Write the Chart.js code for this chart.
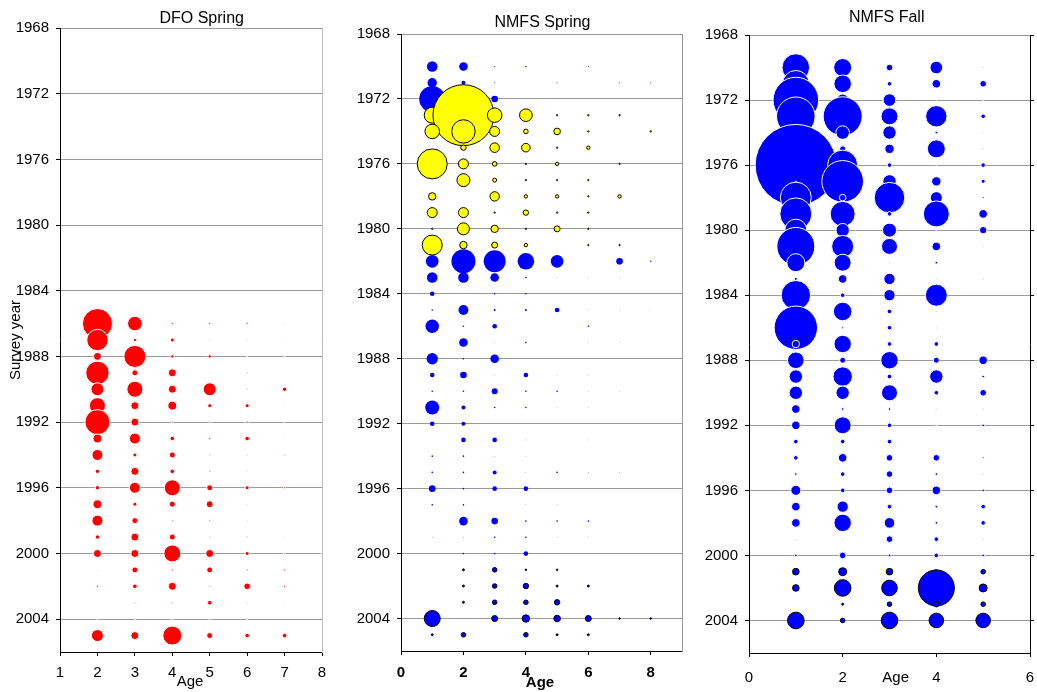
<!DOCTYPE html>
<html><head><meta charset="utf-8">
<script src="https://cdn.jsdelivr.net/npm/chart.js@4.4.0/dist/chart.umd.min.js"></script>
<style>
html,body{margin:0;padding:0;background:#fff;}
#wrap{position:relative;width:1037px;height:692px;overflow:hidden;background:#fff;}
canvas{position:absolute;top:0;}
</style></head><body>
<div id="wrap">
<canvas id="c1" width="340" height="692" style="left:0px;width:340px;height:692px"></canvas>
<canvas id="c2" width="350" height="692" style="left:340px;width:350px;height:692px"></canvas>
<canvas id="c3" width="347" height="692" style="left:690px;width:347px;height:692px"></canvas>
</div>
<script>
// ---------- DATA (bubble values are area-like abundance indices) ----------
const yearTicks = [1968, 1972, 1976, 1980, 1984, 1988, 1992, 1996, 2000, 2004];

// DFO Spring: years 1986-2005, ages 2-8
const dfoYears = [1986,1987,1988,1989,1990,1991,1992,1993,1994,1995,1996,1997,1998,1999,2000,2001,2002,2003,2004,2005];
const dfoAges = [2,3,4,5,6,7,8];
const dfoA2 = [225,114,16,137,42,64,156,20,30,4.8,4.8,20,30,4.8,16,0.25,1,0,0.25,36];
const dfoA3 = [53,2.9,121,9,64,16,16,30,4,16,30,4,9,16,16,9,5.3,0.64,0.36,16];
const dfoA4 = [1,4,2.9,16,16,20,1,5.3,9,5.3,64,9,0.64,9,72,1,16,0.64,0.36,90];
const dfoA5 = [1,0.25,2.9,0.25,42,4,1,1,0.64,0.64,9,12,0.64,0.64,16,9,0.64,5.3,0.36,9];
const dfoA6 = [1,0.25,0.25,0.64,0.64,4,1.4,5.3,0.25,0.25,4,0.25,0.25,0.64,4,1,11,0.25,0.36,5.3];
const dfoA7 = [0.25,0.25,0.25,0,4.8,0.25,0.25,0.25,0.64,0,1,0,0,0.25,0.64,1,1,0.25,0,5.3];
const dfoA8 = [0,0,0,0,0,0,0,0,0,0,0,0,0,0,0.64,0,0,0,0,0];

// NMFS Spring: years 1970-2005, ages 1-8
const nsYears = [1970,1971,1972,1973,1974,1975,1976,1977,1978,1979,1980,1981,1982,1983,1984,1985,1986,1987,1988,1989,1990,1991,1992,1993,1994,1995,1996,1997,1998,1999,2000,2001,2002,2003,2004,2005];
const nsAges = [1,2,3,4,5,6,7,8];
const nsA1 = [28,22,169,64,53,0,225,0,13.7,25,0.5,100,40,28,5.3,0.64,45,0,32,5.3,0.64,49,5.3,0,0.64,0.64,11,0.64,0,0.1,0,0,0,0,64,1];
const nsA2 = [18.5,4,9,930,137,7.3,25,42,0,25,36,13.7,144,28,0,25,0.64,18.5,0.64,11,0.64,4,4,5.3,0.64,0.64,0.64,0.64,18.5,0.1,0.64,1,1,1,0,5.3];
const nsA3 = [0.25,0.25,11,53,25,23,5.3,4,22,0.5,13.7,9,121,18.5,0.64,1,5.3,0.1,18.5,0.1,9,0.64,0,5.3,0.1,4,5.3,0,11,0.64,0.64,5.3,5.3,5.3,9,0];
const nsA4 = [0.5,0,0,40,5.3,18.5,0.5,0.5,2.9,7.3,0.5,2.9,69,0.64,0.64,1,0,0.64,0,5.3,0.64,0.64,0,0.1,0.1,0.1,5.3,0.1,0.64,0.64,5.3,0.64,7.3,5.3,13.7,5.3];
const nsA5 = [0,0.25,0,0.5,11,0.5,2.9,0.5,2.9,0.5,9,0,40,0.1,0,5.3,0,0,0,0.1,0.64,0.1,0,0,0,0.64,0,0.1,0.64,0.1,0,0.64,1,7.3,11,1];
const nsA6 = [0.25,0,0,0.5,0.5,2.9,0,0.5,0.5,0.5,0.5,0.5,0,0.1,0,0.1,0.64,0.1,0,0.1,0.1,0.1,0,0.1,0,0.1,0,0,0.64,0.1,0,0,1,0,9,1];
const nsA7 = [0,0.25,0,0.5,0,0,0.5,0,2.9,0,0,0.5,11,0.1,0,0.1,0,0.1,0,0,0.1,0,0,0,0,0.1,0,0,0,0,0,0,0,0,0.64,0];
const nsA8 = [0,0.25,0,0,0.5,0,0,0,0,0,0,0,0.5,0,0,0.1,0,0,0,0,0,0,0,0,0,0,0,0,0,0,0,0,0,0,0.64,0];

// NMFS Fall: years 1970-2004, ages 1-5
const nfYears = [1970,1971,1972,1973,1974,1975,1976,1977,1978,1979,1980,1981,1982,1983,1984,1985,1986,1987,1988,1989,1990,1991,1992,1993,1994,1995,1996,1997,1998,1999,2000,2001,2002,2003,2004];
const nfAges = [1,2,3,4,5];
const nfA1 = [190,177,520,372,25,64,1656,0.25,240,256,121,361,81,2.3,216,9,471,13.7,69,45,45,18.5,18.5,5.3,5.3,1.7,25,18.5,18.5,0.25,1.7,11,11,0,69];
const nfA2 = [81,77,36,380,46,9,225,433,11,156,45,121,72,18.5,5.3,86,1,76,9,94,45,1.7,72,5.3,18.5,5.3,5.3,32,76,0.25,11,16,69,1,5.3];
const nfA3 = [11,5.3,40,72,45,22,5.3,45,234,5.3,49,64,0.25,32,32,5.3,5.3,5.3,76,5.3,64,1.7,5.3,5.3,11,11,11,5.3,28,11,1.7,11,61,5.3,69];
const nfA4 = [40,18.5,0.25,114,1.7,81,0.25,22,36,169,0.25,18.5,1.7,0.25,121,0.25,0.25,5.3,9,45,5.3,0.25,0.25,0,11,1.7,18.5,1.7,1.7,5.3,5.3,4,324,7.3,53];
const nfA5 = [0.25,11,0.25,5.3,0.25,0.25,5.3,4,1,18.5,13.7,0.25,0,0.25,0,0,0,0,18.5,1.7,11,0.25,1.7,0,1,0.25,1.7,5.3,5.3,0.25,1.7,5.3,16,5.3,53];

// ---------- helpers ----------
const FONT = '"Liberation Sans", Arial, Helvetica, sans-serif';
Chart.defaults.font.family = FONT;

function buildPoints(years, ages, cols, from, to) {
  const pts = [];
  years.forEach((yr, i) => {
    if (yr < from || yr > to) return;
    ages.forEach((a, j) => {
      const v = cols[j][i];
      if (v > 0) pts.push({x: a, y: yr, r: Math.sqrt(v)});
    });
  });
  return pts;
}

const textPlugin = {
  id: 'texts',
  afterDraw(chart, args, opts) {
    const ctx = chart.ctx;
    (opts.items || []).forEach(t => {
      ctx.save();
      ctx.font = t.font;
      ctx.fillStyle = '#000';
      ctx.textAlign = 'center';
      ctx.textBaseline = 'middle';
      ctx.translate(t.x, t.y);
      if (t.rot) ctx.rotate(t.rot);
      ctx.fillText(t.text, 0, 0);
      ctx.restore();
    });
  }
};

function makeChart(id, cfg) {
  const n = cfg.groups.length;
  const datasets = cfg.groups.map((g, i) => ({
    data: buildPoints(cfg.years, cfg.ages, cfg.cols, g.from, g.to),
    backgroundColor: g.fill,
    borderColor: g.stroke,
    borderWidth: g.bw,
    hoverBorderWidth: g.bw,
    order: n - i,
    xAxisID: 'x',
    yAxisID: 'y'
  }));
  const chart = new Chart(document.getElementById(id), {
    type: 'bubble',
    data: { datasets },
    plugins: [textPlugin],
    options: {
      responsive: false,
      animation: false,
      devicePixelRatio: 1,
      events: [],
      layout: { autoPadding: false, padding: Object.assign({}, cfg.padding) },
      plugins: {
        legend: { display: false },
        tooltip: { enabled: false },
        texts: { items: cfg.texts }
      },
      scales: {
        x: {
          type: 'linear', min: cfg.xmin, max: cfg.xmax,
          ticks: { stepSize: cfg.xstep, includeBounds: false, autoSkip: false, maxRotation: 0,
                   color: '#000', padding: cfg.xpad,
                   font: { family: FONT, size: 15, weight: cfg.xbold ? 'bold' : 'normal', lineHeight: cfg.xlh } },
          grid: { drawOnChartArea: false, drawTicks: true, tickLength: 4, tickColor: '#000' },
          border: { color: '#000', width: 1 },
          afterFit: s => { s.height = 30; }
        },
        y: {
          type: 'linear', reverse: true, min: 1968, max: 2006,
          afterBuildTicks: s => { s.ticks = yearTicks.map(v => ({value: v})); },
          ticks: { stepSize: 4, includeBounds: false, autoSkip: false, color: '#000', padding: 7,
                   font: { family: FONT, size: 15 }, callback: v => String(v) },
          grid: { color: '#9a9a9a', lineWidth: 1, tickColor: '#000', tickLength: 4 },
          border: { color: '#000', width: 1 },
          afterFit: s => { s.width = 50; }
        },
        y2: {
          type: 'linear', position: 'right', reverse: true, min: 1968, max: 2006,
          afterBuildTicks: s => { s.ticks = yearTicks.map(v => ({value: v})); },
          ticks: { display: false, stepSize: 4, includeBounds: false },
          grid: { drawOnChartArea: false, drawTicks: cfg.rightTicks, tickLength: 4, tickColor: '#000' },
          border: { color: cfg.rightColor, width: 1 },
          afterFit: s => { s.width = cfg.rightTicks ? 4 : 0; }
        }
      }
    }
  });
  // nudge layout padding so the plot area lands where the reference has it
  const target = cfg.area;
  for (let k = 0; k < 4; k++) {
    const ca = chart.chartArea;
    const p = chart.options.layout.padding;
    const dl = target.left - ca.left, dt = target.top - ca.top;
    const dr = ca.right - target.right, db = ca.bottom - target.bottom;
    if (Math.abs(dl) + Math.abs(dt) + Math.abs(dr) + Math.abs(db) < 0.5) break;
    p.left += dl; p.top += dt; p.right += dr; p.bottom += db;
    chart.update();
  }
  return chart;
}

// ---------- charts ----------
makeChart('c1', {
  years: dfoYears, ages: dfoAges, cols: [dfoA2, dfoA3, dfoA4, dfoA5, dfoA6, dfoA7, dfoA8],
  groups: [ { from: 1986, to: 2005, fill: '#ff0000', stroke: '#ffffff', bw: 1 } ],
  xmin: 1, xmax: 8, xstep: 1, xpad: 8, xlh: 1.2, xbold: false,
  rightTicks: false, rightColor: '#bdbdbd',
  padding: { left: 10, right: 18, top: 28, bottom: 10 },
  area: { left: 60, top: 28, right: 322, bottom: 652 },
  texts: [
    { text: 'DFO Spring', x: 201.7, y: 19, font: '16px ' + FONT },
    { text: 'Age', x: 190, y: 682, font: '15px ' + FONT },
    { text: 'Survey year', x: 16, y: 340, rot: -Math.PI / 2, font: '15px ' + FONT }
  ]
});

makeChart('c2', {
  years: nsYears, ages: nsAges, cols: [nsA1, nsA2, nsA3, nsA4, nsA5, nsA6, nsA7, nsA8],
  groups: [
    { from: 1970, to: 1972, fill: '#0000ff', stroke: '#0000ff', bw: 0 },
    { from: 1973, to: 1981, fill: '#ffff00', stroke: '#000000', bw: 1 },
    { from: 1982, to: 2000, fill: '#0000ff', stroke: '#0000ff', bw: 0 },
    { from: 2001, to: 2005, fill: '#0000ff', stroke: '#000000', bw: 1 }
  ],
  xmin: 0, xmax: 9, xstep: 2, xpad: 9, xlh: 1.2, xbold: true,
  rightTicks: false, rightColor: '#999999',
  padding: { left: 11, right: 8, top: 34, bottom: 11 },
  area: { left: 61, top: 34, right: 342, bottom: 651 },
  texts: [
    { text: 'NMFS Spring', x: 202.5, y: 22.7, font: '16px ' + FONT },
    { text: 'Age', x: 200, y: 683, font: 'bold 15px ' + FONT }
  ]
});

makeChart('c3', {
  years: nfYears, ages: nfAges, cols: [nfA1, nfA2, nfA3, nfA4, nfA5],
  groups: [
    { from: 1970, to: 2000, fill: '#0000ff', stroke: '#ffffff', bw: 1 },
    { from: 2001, to: 2004, fill: '#0000ff', stroke: '#000000', bw: 1 }
  ],
  xmin: 0, xmax: 6, xstep: 2, xpad: 2, xlh: 2.53, xbold: false,
  rightTicks: true, rightColor: '#000000',
  padding: { left: 9, right: 3, top: 35, bottom: 9 },
  area: { left: 59, top: 35, right: 340, bottom: 653 },
  texts: [
    { text: 'NMFS Fall', x: 196.7, y: 17.3, font: '16px ' + FONT },
    { text: 'Age', x: 205.7, y: 678, font: '15px ' + FONT }
  ]
});
</script>
</body></html>
